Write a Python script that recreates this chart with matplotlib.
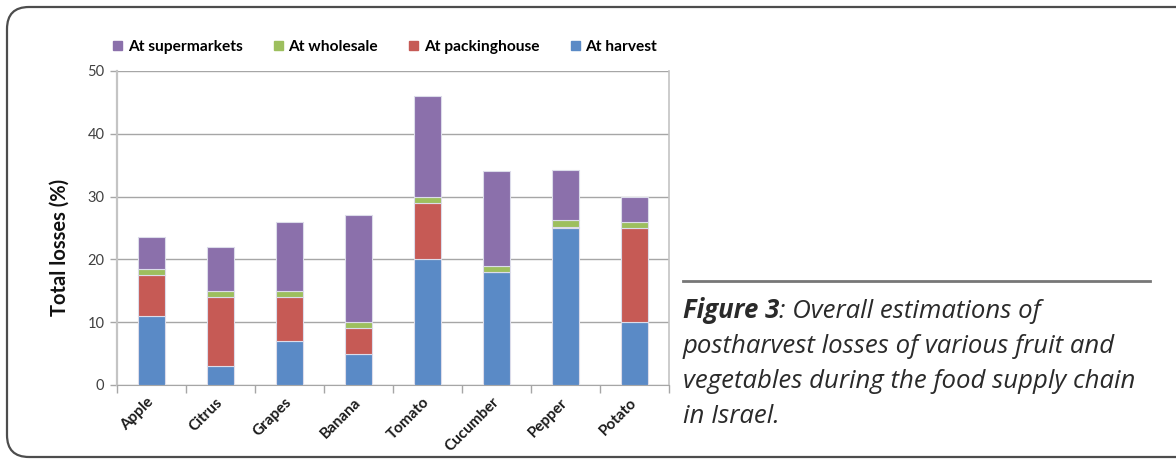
import numpy as np
import matplotlib
matplotlib.use("Agg")
import matplotlib.pyplot as plt
from matplotlib.patches import FancyBboxPatch, Patch
from matplotlib.lines import Line2D
from matplotlib.transforms import IdentityTransform

# losses per stage (%)
crops = ["Apple", "Citrus", "Grapes", "Banana", "Tomato", "Cucumber", "Pepper", "Potato"]
at_harvest = [11, 3, 7, 5, 20, 18, 25, 10]
at_packinghouse = [6.5, 11, 7, 4, 9, 0, 0.2, 15]
at_wholesale = [1, 1, 1, 1, 1, 1, 1, 1]
at_supermarkets = [5, 7, 11, 17, 16, 15, 8, 4]

c_harvest = "#5a8ac6"
c_pack = "#c65a55"
c_whole = "#9dbf5e"
c_super = "#8b70ab"

W, H = 1176, 459
fig = plt.figure(figsize=(W / 100, H / 100), dpi=100)
plt.rcParams["font.family"] = ["Lato", "DejaVu Sans"]

def px(x0, y0, x1, y1):
    # pixel box (top-left origin) -> figure fractions
    return [x0 / W, 1 - y1 / H, (x1 - x0) / W, (y1 - y0) / H]

ax = fig.add_axes(px(117, 71, 669, 385))

x = np.arange(len(crops))
bw = 0.4
edge = dict(edgecolor="#dcdcea", linewidth=0.8)
b1 = np.array(at_harvest, dtype=float)
b2 = b1 + np.array(at_packinghouse)
b3 = b2 + np.array(at_wholesale)
ax.bar(x, at_harvest, bw, color=c_harvest, zorder=3, **edge)
ax.bar(x, at_packinghouse, bw, bottom=b1, color=c_pack, zorder=3, **edge)
ax.bar(x, at_wholesale, bw, bottom=b2, color=c_whole, zorder=3, **edge)
ax.bar(x, at_supermarkets, bw, bottom=b3, color=c_super, zorder=3, **edge)

ax.set_xlim(-0.5, len(crops) - 0.5)
ax.set_ylim(0, 50)
ax.set_yticks(range(0, 51, 10))
ax.yaxis.grid(True, color="#a6a6a6", linewidth=1, zorder=0)
ax.tick_params(axis="y", length=5, width=1, color="#a6a6a6", labelsize=10.5,
               labelcolor="#404040", pad=4)

ax.set_xticks(x)
ax.set_xticklabels(crops, rotation=45, ha="right", va="center",
                   rotation_mode="anchor", fontsize=11, fontweight="bold",
                   color="#1a1a1a")
ax.tick_params(axis="x", which="major", length=0, pad=11)
ax.set_xticks(np.arange(-0.5, len(crops)), minor=True)
ax.tick_params(axis="x", which="minor", length=6, width=1, color="#a6a6a6")

ax.spines["top"].set_visible(False)
ax.spines["left"].set_color("#c4c4c4")
ax.spines["left"].set_linewidth(1.6)
ax.spines["bottom"].set_color("#a6a6a6")
ax.spines["right"].set_color("#c4c4c4")
ax.spines["right"].set_linewidth(1.2)

fig.text(60 / W, 1 - 247 / H, "Total losses (%)", rotation=90, ha="center",
         va="center", fontsize=14.5, fontweight="bold", color="#111111")

handles = [Patch(color=c_super), Patch(color=c_whole), Patch(color=c_pack),
           Patch(color=c_harvest)]
labels = ["At supermarkets", "At wholesale", "At packinghouse", "At harvest"]
fig.legend(handles, labels, loc="center left",
           bbox_to_anchor=(99 / W, 1 - 47 / H), ncol=4, frameon=False,
           handlelength=0.6, handleheight=0.6, handletextpad=0.35,
           columnspacing=2.0,
           prop=dict(family="Lato", weight="bold", size=11.2))

# outer rounded frame
frame = FancyBboxPatch((7, 2), 1260, 450, boxstyle="round,pad=0,rounding_size=22",
                       transform=IdentityTransform(), fill=False,
                       edgecolor="#4d4d4d", linewidth=1.6)
fig.patches.append(frame)

# caption
fig.lines.append(Line2D([683 / W, 1150 / W], [1 - 281 / H, 1 - 281 / H],
                        transform=fig.transFigure, color="#777777", linewidth=2))

cap_size = 18.5
cap_color = "#2a2a2a"
cap_font = ["Open Sans", "DejaVu Sans"]
x0 = 683 / W
renderer = fig.canvas.get_renderer()
t = fig.text(x0, 1 - 318 / H, "Figure 3", fontsize=cap_size, fontweight="bold",
             style="italic", color=cap_color, va="baseline", family=cap_font)
bb = t.get_window_extent(renderer)
fig.text(bb.x1 / W, 1 - 318 / H, ": Overall estimations of", fontsize=cap_size,
         style="italic", color=cap_color, va="baseline", family=cap_font)
rest = ["postharvest losses of various fruit and",
        "vegetables during the food supply chain",
        "in Israel."]
for i, line in enumerate(rest):
    fig.text(x0, 1 - (353 + 35 * i) / H, line, fontsize=cap_size, style="italic",
             color=cap_color, va="baseline", family=cap_font)

fig.savefig("out.png", dpi=100)
